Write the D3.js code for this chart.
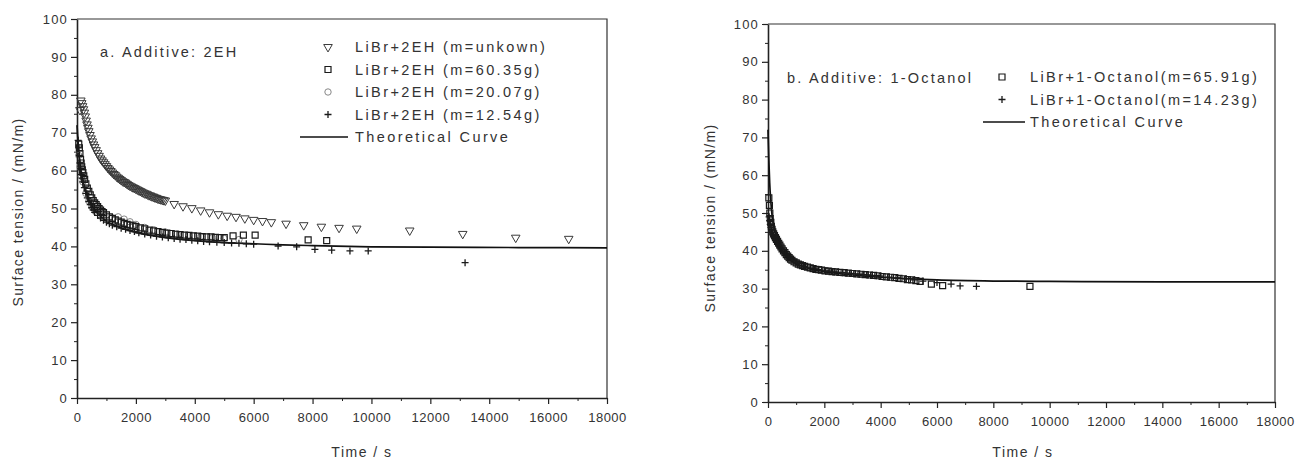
<!DOCTYPE html>
<html><head><meta charset="utf-8">
<script src="https://cdn.jsdelivr.net/npm/d3@7"></script>
<style>
body{margin:0;background:#fff}
svg{display:block;background:#fff}
text{font-family:"Liberation Sans",Arial,sans-serif;fill:#333}
</style></head><body>
<svg id="c" width="1295" height="460"></svg>
<script>
// ---------- data ----------
const xTickValues = [0,2000,4000,6000,8000,10000,12000,14000,16000,18000];
const xTickLabels = ["0","2000","4000","6000","8000","10000","12000","14000","16000","18000"];
const yTickValues = [0,10,20,30,40,50,60,70,80,90,100];
const yTickLabels = ["0","10","20","30","40","50","60","70","80","90","100"];

// Panel a: 2EH
const a_unk_t = [100,130,160,190,220,250,280,310,340,370,400,440,480,520,560,600,650,700,750,800,850,900,950,1000,1050,1100,1150,1200,1250,1300,1350,1400,1450,1500,1550,1600,1650,1700,1750,1800,1850,1900,1950,2000,2050,2100,2150,2200,2250,2300,2350,2400,2450,2500,2550,2600,2650,2700,2750,2800,2850,2900,2950,3000,3300,3600,3900,4200,4500,4800,5100,5400,5700,6000,6300,6600,7100,7700,8300,8900,9500,11300,13100,14900,16700];
const a_unk_v = [76,78.5,77.8,77,76.2,75.3,74.3,73.2,72.2,71.3,70.4,69.4,68.5,67.7,66.9,66.2,65.4,64.6,63.9,63.2,62.7,62.2,61.7,61.2,60.7,60.3,59.9,59.5,59.1,58.8,58.4,58.1,57.8,57.5,57.2,57,56.8,56.5,56.2,56,55.8,55.6,55.4,55.2,55,54.8,54.6,54.4,54.2,54,53.9,53.7,53.5,53.4,53.2,53.1,52.9,52.8,52.6,52.5,52.4,52.3,52.2,52.1,51.2,50.6,50.1,49.5,49,48.5,48.1,47.8,47.4,47,46.7,46.4,46,45.6,45.2,44.9,44.7,44.2,43.3,42.3,42];
const a_m60_t = [60,80,100,120,140,160,180,200,230,260,300,350,400,450,500,550,600,650,700,750,800,850,900,1000,1100,1200,1300,1400,1500,1600,1700,1800,1900,2000,2150,2300,2450,2600,2750,2900,3050,3200,3350,3500,3650,3800,3950,4100,4250,4400,4550,4700,4850,5000,5300,5650,6050,7850,8480];
const a_m60_v = [67,66,64.5,63,62,61,60.2,59.5,58.6,57.7,56.5,55.4,54.5,53.6,52.8,52.1,51.5,51,50.5,50,49.6,49.2,48.9,48.3,47.8,47.4,47,46.7,46.4,46.1,45.8,45.6,45.4,45.2,44.9,44.6,44.3,44.1,43.9,43.7,43.5,43.4,43.2,43.1,43,42.9,42.8,42.7,42.6,42.5,42.5,42.4,42.3,42.3,42.8,43,43,41.7,41.5];
const a_m20_t = [60,100,150,200,300,400,500,650,800,1000,1200,1400,1600,1800,2000,2300,2600,3000,3400,3800,4200,4600,5000,5500];
const a_m20_v = [64,61,58.5,57,54,52,50.5,49,48,47.3,47.5,47.8,47.2,46.5,45.8,45,44.4,43.8,43.3,42.9,42.6,42.3,42.1,41.8];
const a_m12_t = [40,60,80,100,125,150,175,200,250,300,350,400,450,500,550,600,700,800,900,1000,1100,1200,1350,1500,1650,1800,1950,2100,2300,2500,2700,2900,3100,3300,3500,3700,3900,4100,4300,4500,4750,5000,5250,5500,5750,6000,6830,7460,8080,8650,9270,9890,13180];
const a_m12_v = [68,66,64,62,60.5,59,58,57,55.5,54,52.8,51.8,51,50.2,49.6,49,48.2,47.5,46.9,46.4,46,45.6,45.2,44.8,44.5,44.2,43.9,43.6,43.3,43,42.7,42.5,42.3,42.1,41.9,41.8,41.6,41.5,41.3,41.2,41.1,41,40.9,40.8,40.7,40.6,40.1,39.9,39.2,39,38.8,38.8,35.7];
const a_theo_t = [0,50,100,200,300,400,600,800,1000,1300,1600,2000,2500,3000,4000,5000,6000,7000,8000,10000,12000,15000,18000];
const a_theo_v = [72,66,62,57.5,54.5,52.3,49.6,47.9,46.7,45.5,44.6,43.7,42.9,42.3,41.5,41,40.7,40.4,40.2,39.9,39.8,39.7,39.6];
const a_labels = ["LiBr+2EH (m=unkown)","LiBr+2EH (m=60.35g)","LiBr+2EH (m=20.07g)","LiBr+2EH (m=12.54g)","Theoretical Curve"];

// Panel b: 1-Octanol
const b_m65_t = [30,50,65,80,100,120,145,170,200,230,265,300,340,380,420,460,500,550,600,650,700,750,800,850,925,1000,1075,1150,1225,1300,1400,1500,1600,1700,1800,1900,2025,2150,2275,2400,2550,2700,2850,3000,3150,3300,3450,3600,3750,3900,4050,4200,4350,4500,4650,4800,4950,5100,5250,5400,5800,6200,9300];
const b_m65_v = [54,52,50,48.5,47.5,46.5,45.7,45,44.5,44,43.5,43,42.5,42,41.5,41,40.5,40,39.5,39,38.6,38.2,37.8,37.5,37.1,36.8,36.5,36.3,36.1,35.9,35.7,35.5,35.3,35.1,35,34.9,34.7,34.6,34.5,34.4,34.3,34.2,34.1,34,33.9,33.8,33.7,33.6,33.5,33.4,33.2,33.1,33,32.9,32.7,32.6,32.4,32.3,32.1,31.9,31.2,30.8,30.6];
const b_m14_t = [40,60,80,105,130,160,190,225,260,300,340,380,420,470,520,570,620,675,730,790,850,925,1000,1100,1200,1300,1400,1525,1650,1775,1900,2050,2200,2350,2500,2650,2800,2950,3100,3250,3400,3550,3700,3850,4000,4300,4600,4900,5200,5500,6000,6500,6820,7400];
const b_m14_v = [49,48,47,46.2,45.5,44.8,44.2,43.6,43,42.5,42,41.5,41,40.5,40,39.6,39.2,38.8,38.5,38.1,37.8,37.4,37,36.6,36.2,35.9,35.7,35.4,35.2,35,34.9,34.7,34.6,34.4,34.3,34.2,34.1,34,33.9,33.8,33.7,33.6,33.5,33.4,33.3,33,32.8,32.6,32.3,32,31.6,31.2,30.7,30.6];
const b_theo_t = [0,30,60,100,150,200,300,400,500,700,900,1200,1500,2000,2500,3000,4000,5000,6000,8000,10000,14000,18000];
const b_theo_v = [72,64,58,53,49,46.5,43.5,41.5,40,38.2,37,35.9,35.2,34.5,34,33.6,33,32.6,32.3,32,31.9,31.8,31.8];
const b_labels = ["LiBr+1-Octanol(m=65.91g)","LiBr+1-Octanol(m=14.23g)","Theoretical Curve"];

const xTitle = "Time / s";
const yTitle = "Surface tension / (mN/m)";

// ---------- drawing ----------
const svg = d3.select('#c');
const zip = (t,v) => t.map((d,i)=>[d,v[i]]);

function marker(g, type, x, y){
  if(type==='tri'){
    g.append('path').attr('d', d3.symbol(d3.symbolTriangle, 32)())
      .attr('transform',`translate(${x},${y}) rotate(180)`)
      .attr('fill','none').attr('stroke','#3a3a3a').attr('stroke-width',1);
  } else if(type==='sq'){
    g.append('path').attr('d', d3.symbol(d3.symbolSquare, 36)())
      .attr('transform',`translate(${x},${y})`)
      .attr('fill','none').attr('stroke','#1a1a1a').attr('stroke-width',1.2);
  } else if(type==='circ'){
    g.append('circle').attr('cx',x).attr('cy',y).attr('r',3.2)
      .attr('fill','none').attr('stroke','#888').attr('stroke-width',1);
  } else if(type==='plus'){
    g.append('path').attr('d', `M${x-3.5},${y}H${x+3.5}M${x},${y-3.5}V${y+3.5}`)
      .attr('stroke','#1a1a1a').attr('stroke-width',1.3);
  }
}

function panel(cfg){
  const g = svg.append('g');
  const x = d3.scaleLinear([0,18000],[cfg.L,cfg.R]);
  const y = d3.scaleLinear([0,100],[cfg.B,cfg.T]);

  g.append('path').attr('d',`M${cfg.L},${cfg.T}H${cfg.R}V${cfg.B}`)
    .attr('fill','none').attr('stroke','#333').attr('stroke-width',1.2);

  g.append('g').attr('transform',`translate(0,${cfg.B})`)
    .call(d3.axisBottom(x).tickValues(d3.range(1000,18000,2000)).tickSize(3).tickFormat(''))
    .call(s=>s.select('.domain').remove());
  g.append('g').attr('transform',`translate(${cfg.L},0)`)
    .call(d3.axisLeft(y).tickValues(d3.range(5,100,10)).tickSize(3).tickFormat(''))
    .call(s=>s.select('.domain').remove());

  const xa = g.append('g').attr('transform',`translate(0,${cfg.B})`)
    .call(d3.axisBottom(x).tickValues(xTickValues).tickFormat((d,i)=>xTickLabels[i]).tickSize(6).tickSizeOuter(0).tickPadding(9));
  const ya = g.append('g').attr('transform',`translate(${cfg.L},0)`)
    .call(d3.axisLeft(y).tickValues(yTickValues).tickFormat((d,i)=>yTickLabels[i]).tickSize(6).tickSizeOuter(0).tickPadding(3));
  [xa,ya].forEach(a=>{
    a.select('.domain').attr('stroke','#222').attr('stroke-width',1.6);
    a.selectAll('.tick line').attr('stroke','#222').attr('stroke-width',1.2);
    a.selectAll('.tick text').style('font-size','13px').attr('fill','#333')
      .style('font-family','"Liberation Sans",Arial,sans-serif');
  });
  xa.selectAll('.tick text').attr('letter-spacing','0.5');
  ya.selectAll('.tick text').attr('letter-spacing','1.2');
  g.selectAll('.tick line').attr('stroke','#222');

  g.append('path').datum(cfg.theo)
    .attr('d', d3.line().x(d=>x(d[0])).y(d=>y(d[1])).curve(d3.curveMonotoneX))
    .attr('fill','none').attr('stroke','#111').attr('stroke-width',1.7);

  cfg.series.forEach(s=>{
    const sg = g.append('g');
    s.data.forEach(d=>marker(sg, s.type, x(d[0]), y(d[1])));
  });

  g.append('text').attr('x',cfg.ann[1]).attr('y',cfg.ann[2]).attr('dominant-baseline','central')
    .style('font-size','14.5px').attr('letter-spacing','2.2').attr('fill','#444').text(cfg.ann[0]);

  cfg.legend.rows.forEach((r,i)=>{
    const yy = cfg.legend.y0 + i*cfg.legend.dy;
    if(r.type==='line'){
      g.append('line').attr('x1',cfg.legend.lx0).attr('x2',cfg.legend.lx1).attr('y1',yy).attr('y2',yy)
        .attr('stroke','#111').attr('stroke-width',1.6);
    } else marker(g, r.type, cfg.legend.sx, yy);
    g.append('text').attr('x',cfg.legend.tx).attr('y',yy).attr('dominant-baseline','central')
      .style('font-size','14.5px').attr('letter-spacing','2.4').attr('fill','#333').text(r.label);
  });

  g.append('text').attr('x',cfg.xtx).attr('y',452).attr('text-anchor','middle').attr('dominant-baseline','central')
    .style('font-size','14px').attr('letter-spacing','1.5').attr('fill','#444').text(xTitle);
  g.append('text').attr('transform',`translate(${cfg.ytx},${cfg.yty}) rotate(-90)`).attr('text-anchor','middle')
    .attr('dominant-baseline','central').style('font-size','14px').attr('letter-spacing','1.4').attr('fill','#444').text(yTitle);
}

panel({
  L:77, R:607, B:398, T:19,
  theo: zip(a_theo_t,a_theo_v),
  series:[
    {type:'circ', data: zip(a_m20_t,a_m20_v)},
    {type:'tri', data: zip(a_unk_t,a_unk_v)},
    {type:'sq', data: zip(a_m60_t,a_m60_v)},
    {type:'plus', data: zip(a_m12_t,a_m12_v)}
  ],
  ann:["a.  Additive: 2EH",100,52],
  legend:{y0:47, dy:22.5, sx:328, tx:355, lx0:300, lx1:348,
    rows:[{type:'tri',label:a_labels[0]},{type:'sq',label:a_labels[1]},{type:'circ',label:a_labels[2]},{type:'plus',label:a_labels[3]},{type:'line',label:a_labels[4]}]},
  xtx:362, ytx:18, yty:212
});

panel({
  L:768, R:1275, B:402, T:24,
  theo: zip(b_theo_t,b_theo_v),
  series:[
    {type:'sq', data: zip(b_m65_t,b_m65_v)},
    {type:'plus', data: zip(b_m14_t,b_m14_v)}
  ],
  ann:["b.  Additive: 1-Octanol",787,78],
  legend:{y0:77, dy:22.5, sx:1002, tx:1030, lx0:983, lx1:1025,
    rows:[{type:'sq',label:b_labels[0]},{type:'plus',label:b_labels[1]},{type:'line',label:b_labels[2]}]},
  xtx:1023, ytx:710, yty:218
});
</script>
</body></html>
